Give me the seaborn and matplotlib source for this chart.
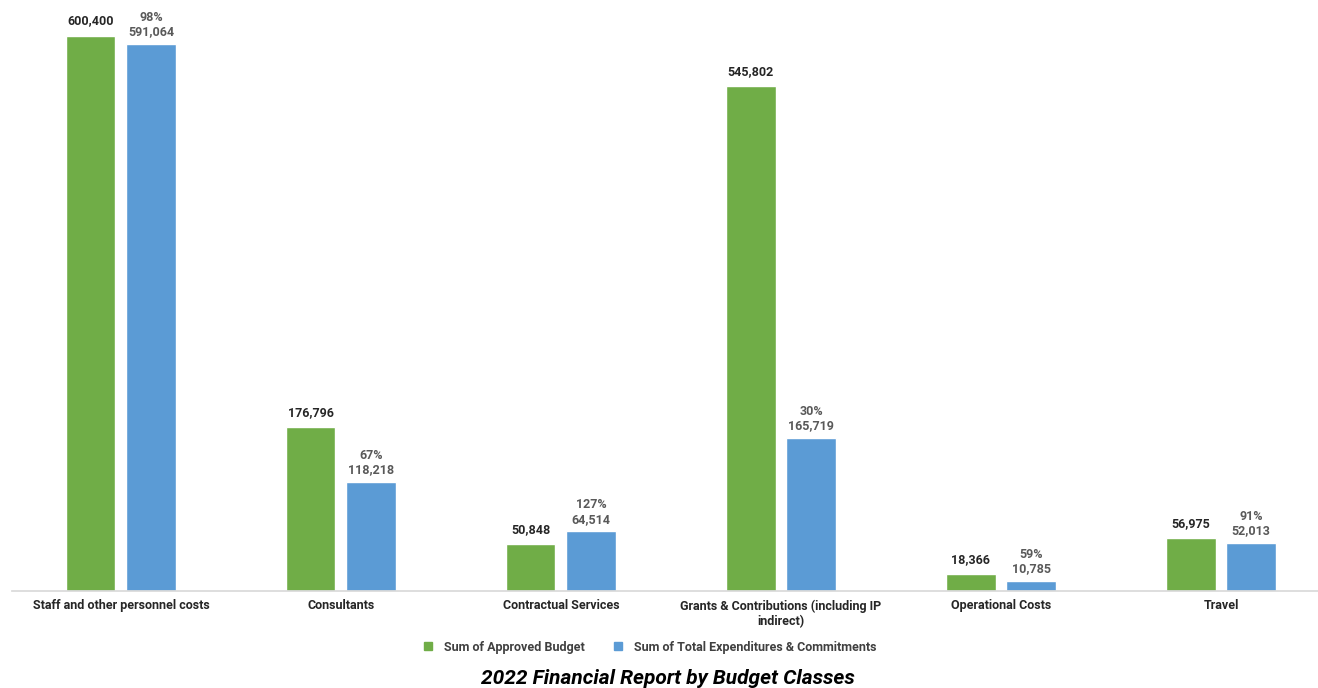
import numpy as np
import pandas as pd
import matplotlib
matplotlib.use("Agg")
import matplotlib.pyplot as plt
from matplotlib.lines import Line2D
import seaborn as sns

categories = ["Staff and other personnel costs", "Consultants", "Contractual Services",
              "Grants & Contributions (including IP\nindirect)", "Operational Costs", "Travel"]
approved = [600400, 176796, 50848, 545802, 18366, 56975]
spent = [591064, 118218, 64514, 165719, 10785, 52013]
series = ["Sum of Approved Budget", "Sum of Total Expenditures & Commitments"]
colors = ["#70AD47", "#5B9BD5"]

sns.set_theme(style="white")
plt.rcParams['font.family'] = ['Roboto', 'DejaVu Sans']

df = pd.DataFrame({
    "cat": categories * 2,
    "series": [series[0]] * len(categories) + [series[1]] * len(categories),
    "value": approved + spent,
})

fig = plt.figure(figsize=(13.18, 6.88), dpi=100)
ax = fig.add_axes([12 / 1318, 97 / 688, 1306 / 1318, 591 / 688])
sns.barplot(data=df, x="cat", y="value", hue="series", palette=colors,
            width=0.55, gap=0.18, ax=ax, legend=False, saturation=1)

ax.set_ylim(0, 600400 * 591 / 555.5)
ax.set_xlim(-0.495, 5.441)
ax.set_xlabel("")
ax.set_ylabel("")
ax.set_yticks([])
for s in ["top", "left", "right"]:
    ax.spines[s].set_visible(False)
ax.spines["bottom"].set_color("#d9d9d9")
ax.tick_params(axis="x", length=0, pad=6)
for lbl in ax.get_xticklabels():
    lbl.set_fontsize(9)
    lbl.set_fontweight("bold")
    lbl.set_color("#262626")
    lbl.set_verticalalignment("top")

# value labels
bars_a, bars_b = ax.containers[0], ax.containers[1]
for rect, v in zip(bars_a, approved):
    ax.annotate(f"{v:,}", (rect.get_x() + rect.get_width() / 2, rect.get_height()),
                xytext=(0, 6), textcoords="offset points", ha="center", va="bottom",
                fontsize=9, fontweight="bold", color="#262626")
for rect, v, a in zip(bars_b, spent, approved):
    pct = round(v / a * 100)
    ax.annotate(f"{pct}%\n{v:,}", (rect.get_x() + rect.get_width() / 2, rect.get_height()),
                xytext=(0, 4), textcoords="offset points", ha="center", va="bottom",
                fontsize=9, fontweight="bold", color="#595959", linespacing=1.15)

handles = [Line2D([], [], marker="s", linestyle="", color=c, markersize=6) for c in colors]
leg = fig.legend(handles, series, loc="center", bbox_to_anchor=(646 / 1318, 1 - 647 / 688),
                 ncol=2, frameon=False, handletextpad=0.3, columnspacing=1.6,
                 prop={"size": 9, "weight": "bold"})
for t in leg.get_texts():
    t.set_color("#404040")

fig.text(668 / 1318, 1 - 679 / 688, "2022 Financial Report by Budget Classes",
         ha="center", va="center", fontsize=15, fontweight="bold", fontstyle="italic",
         color="#000000")

fig.savefig("out.png", dpi=100)
